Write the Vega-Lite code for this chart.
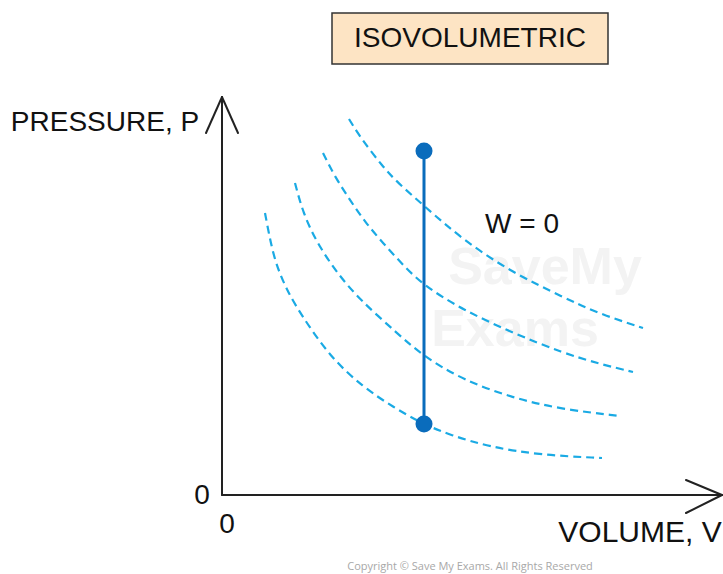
{
  "$schema": "https://vega.github.io/schema/vega-lite/v6.json",
  "width": 500,
  "height": 400,
  "autosize": {"type": "none"},
  "padding": {"left": 222, "top": 95, "right": 1, "bottom": 79},
  "background": "white",
  "config": {"view": {"stroke": null}},
  "datasets": {
    "curves": [
      {"curve": "c1", "v": 127, "p": 376}, {"curve": "c1", "v": 138, "p": 358}, {"curve": "c1", "v": 161, "p": 328}, {"curve": "c1", "v": 175, "p": 313}, {"curve": "c1", "v": 201, "p": 290}, {"curve": "c1", "v": 241, "p": 255}, {"curve": "c1", "v": 291, "p": 222}, {"curve": "c1", "v": 341, "p": 198}, {"curve": "c1", "v": 375, "p": 182}, {"curve": "c1", "v": 421, "p": 167},
      {"curve": "c2", "v": 101, "p": 342}, {"curve": "c2", "v": 113, "p": 318}, {"curve": "c2", "v": 128, "p": 295}, {"curve": "c2", "v": 143, "p": 273}, {"curve": "c2", "v": 161, "p": 252}, {"curve": "c2", "v": 181, "p": 230}, {"curve": "c2", "v": 201, "p": 210}, {"curve": "c2", "v": 241, "p": 185}, {"curve": "c2", "v": 291, "p": 162}, {"curve": "c2", "v": 341, "p": 142}, {"curve": "c2", "v": 378, "p": 131}, {"curve": "c2", "v": 411, "p": 123},
      {"curve": "c3", "v": 73, "p": 312}, {"curve": "c3", "v": 81, "p": 282}, {"curve": "c3", "v": 95, "p": 252}, {"curve": "c3", "v": 115, "p": 222}, {"curve": "c3", "v": 138, "p": 195}, {"curve": "c3", "v": 175, "p": 162}, {"curve": "c3", "v": 201, "p": 139}, {"curve": "c3", "v": 241, "p": 115}, {"curve": "c3", "v": 291, "p": 97}, {"curve": "c3", "v": 338, "p": 86}, {"curve": "c3", "v": 398, "p": 79},
      {"curve": "c4", "v": 43, "p": 282}, {"curve": "c4", "v": 50, "p": 245}, {"curve": "c4", "v": 57, "p": 223}, {"curve": "c4", "v": 66, "p": 203}, {"curve": "c4", "v": 78, "p": 182}, {"curve": "c4", "v": 108, "p": 138}, {"curve": "c4", "v": 141, "p": 108}, {"curve": "c4", "v": 171, "p": 88}, {"curve": "c4", "v": 201, "p": 71}, {"curve": "c4", "v": 228, "p": 60}, {"curve": "c4", "v": 268, "p": 48}, {"curve": "c4", "v": 318, "p": 40}, {"curve": "c4", "v": 380, "p": 37}
    ],
    "process": [
      {"v": 202, "p": 344},
      {"v": 202, "p": 71}
    ],
    "axes": [
      {"x": 0, "y": 0, "x2": 0, "y2": 398},
      {"x": 0, "y": 0, "x2": 500, "y2": 0},
      {"x": 0, "y": 398, "x2": -16, "y2": 362},
      {"x": 0, "y": 398, "x2": 16, "y2": 362},
      {"x": 500, "y": 0, "x2": 464, "y2": 15},
      {"x": 500, "y": 0, "x2": 464, "y2": -18}
    ],
    "labels": [
      {"text": "PRESSURE, P", "x": -117, "y": 372},
      {"text": "ISOVOLUMETRIC", "x": 248, "y": 456},
      {"text": "W = 0", "x": 300, "y": 270},
      {"text": "0", "x": -20, "y": -1},
      {"text": "0", "x": 5, "y": -30}
    ],
    "xlabel": [{"text": "VOLUME, V", "x": 418, "y": -38}],
    "box": [{"x": 110, "x2": 386, "y": 482, "y2": 431}],
    "watermark": [
      {"text": "SaveMy", "x": 323, "y": 227},
      {"text": "Exams", "x": 293, "y": 165}
    ],
    "copyright": [{"text": "Copyright © Save My Exams. All Rights Reserved", "x": 248, "y": -72}]
  },
  "layer": [
    {
      "data": {"name": "watermark"},
      "mark": {"type": "text", "fontSize": 52, "fontWeight": "bold", "font": "Liberation Sans", "color": "#f3f3f3", "align": "center", "baseline": "middle"},
      "encoding": {
        "x": {"field": "x", "type": "quantitative", "scale": {"domain": [0, 500], "nice": false, "zero": false}, "axis": null},
        "y": {"field": "y", "type": "quantitative", "scale": {"domain": [0, 400], "nice": false, "zero": false}, "axis": null},
        "text": {"field": "text"}
      }
    },
    {
      "data": {"name": "box"},
      "mark": {"type": "rect", "fill": "#fde4c4", "stroke": "#333333", "strokeWidth": 1.5},
      "encoding": {
        "x": {"field": "x", "type": "quantitative"},
        "x2": {"field": "x2"},
        "y": {"field": "y", "type": "quantitative"},
        "y2": {"field": "y2"}
      }
    },
    {
      "data": {"name": "curves"},
      "mark": {"type": "line", "interpolate": "basis", "strokeDash": [8, 5], "strokeWidth": 2.2, "color": "#1aaae4"},
      "encoding": {
        "x": {"field": "v", "type": "quantitative"},
        "y": {"field": "p", "type": "quantitative"},
        "detail": {"field": "curve"}
      }
    },
    {
      "data": {"name": "process"},
      "mark": {"type": "line", "strokeWidth": 3, "color": "#0a6cbc"},
      "encoding": {
        "x": {"field": "v", "type": "quantitative"},
        "y": {"field": "p", "type": "quantitative"}
      }
    },
    {
      "data": {"name": "process"},
      "mark": {"type": "point", "filled": true, "size": 290, "opacity": 1, "color": "#0a6cbc"},
      "encoding": {
        "x": {"field": "v", "type": "quantitative"},
        "y": {"field": "p", "type": "quantitative"}
      }
    },
    {
      "data": {"name": "axes"},
      "mark": {"type": "rule", "color": "#222222", "strokeWidth": 2, "strokeCap": "round"},
      "encoding": {
        "x": {"field": "x", "type": "quantitative"},
        "y": {"field": "y", "type": "quantitative"},
        "x2": {"field": "x2"},
        "y2": {"field": "y2"}
      }
    },
    {
      "data": {"name": "labels"},
      "mark": {"type": "text", "fontSize": 28, "font": "Liberation Sans", "color": "#111111", "align": "center", "baseline": "middle"},
      "encoding": {
        "x": {"field": "x", "type": "quantitative"},
        "y": {"field": "y", "type": "quantitative"},
        "text": {"field": "text"}
      }
    },
    {
      "data": {"name": "xlabel"},
      "mark": {"type": "text", "fontSize": 30, "font": "Liberation Sans", "color": "#111111", "align": "center", "baseline": "middle"},
      "encoding": {
        "x": {"field": "x", "type": "quantitative"},
        "y": {"field": "y", "type": "quantitative"},
        "text": {"field": "text"}
      }
    },
    {
      "data": {"name": "copyright"},
      "mark": {"type": "text", "fontSize": 11, "font": "Open Sans", "color": "#a8a8a8", "align": "center", "baseline": "middle"},
      "encoding": {
        "x": {"field": "x", "type": "quantitative"},
        "y": {"field": "y", "type": "quantitative"},
        "text": {"field": "text"}
      }
    }
  ]
}
